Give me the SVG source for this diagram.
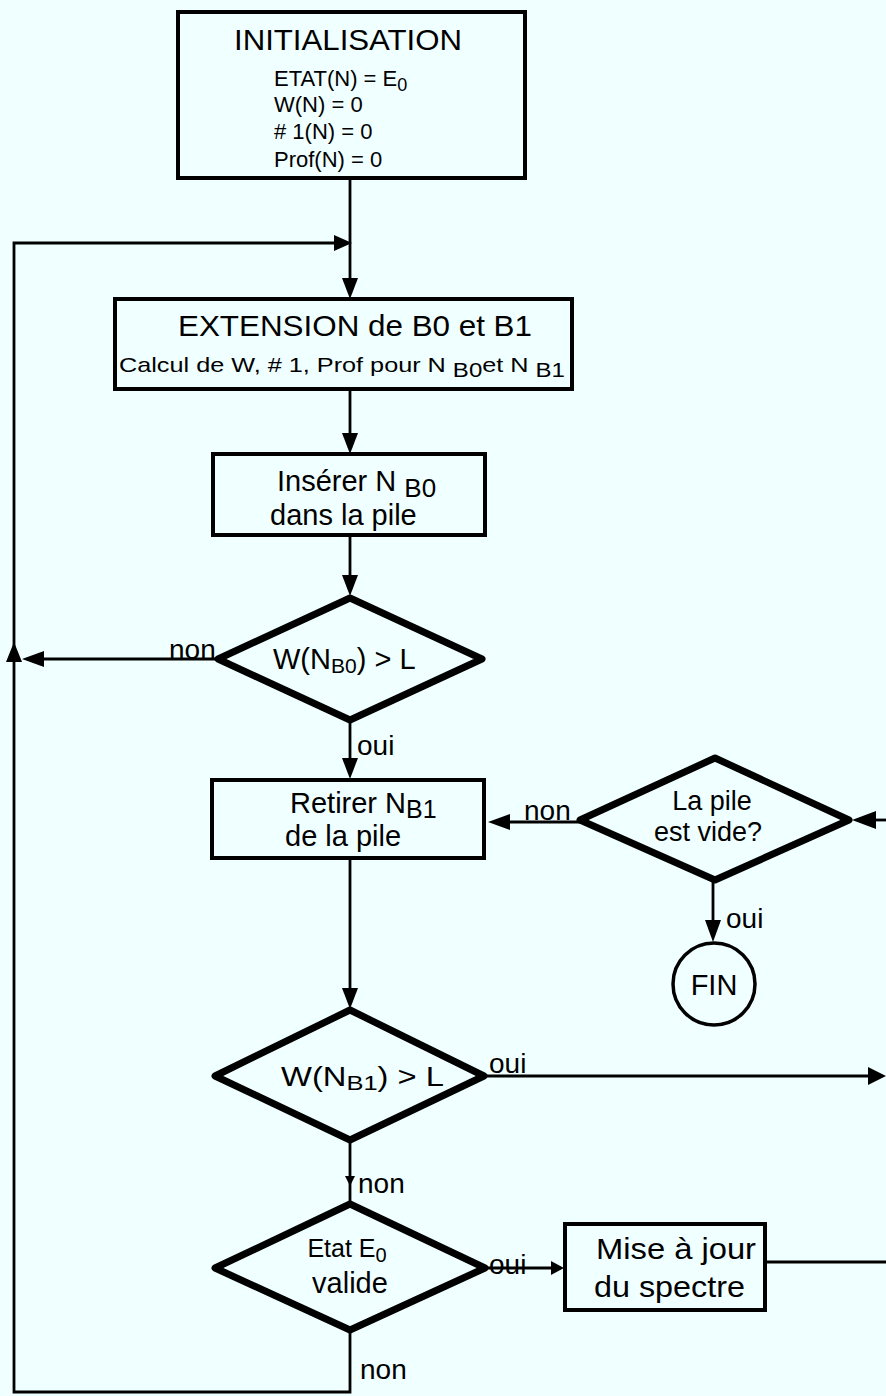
<svg xmlns="http://www.w3.org/2000/svg" width="886" height="1396" viewBox="0 0 886 1396">
<defs>
<style>
.bg{fill:#f0ffff}
.box{fill:none;stroke:#000;stroke-width:4}
.dia{fill:none;stroke:#000;stroke-width:7;stroke-linejoin:round}
.ln{fill:none;stroke:#000;stroke-width:2.8}
.ah{fill:#000}
text{font-family:"Liberation Sans",Arial,sans-serif;fill:#000}
.t1{font-size:30px}
.t2{font-size:22px}
.t3{font-size:29px}
.lb{font-size:28px}
</style>
</defs>
<rect class="bg" x="0" y="0" width="886" height="1396"/>

<g id="connectors">
<path class="ln" d="M350,178 V290"/>
<polygon class="ah" points="342,278 358,278 350,299"/>
<path class="ln" d="M350,1330 V1392 H14 V243 H340"/>
<polygon class="ah" points="334,235 334,251 352,243"/>
<polygon class="ah" points="6,662 22,662 14,642"/>
<path class="ln" d="M218,659 H32"/>
<polygon class="ah" points="44,651 44,667 22,659"/>
<path class="ln" d="M350,390 V445"/>
<polygon class="ah" points="342,433 358,433 350,454"/>
<path class="ln" d="M350,535 V588"/>
<polygon class="ah" points="342,575 358,575 350,596"/>
<path class="ln" d="M350,720 V770"/>
<polygon class="ah" points="342,758 358,758 350,779"/>
<path class="ln" d="M580,822 H498"/>
<polygon class="ah" points="510,814 510,830 488,822"/>
<path class="ln" d="M886,820 H862"/>
<polygon class="ah" points="876,811 876,829 852,820"/>
<path class="ln" d="M713,880 V932"/>
<polygon class="ah" points="705,920 721,920 713,942"/>
<path class="ln" d="M350,858 V1000"/>
<polygon class="ah" points="342,988 358,988 350,1009"/>
<path class="ln" d="M484,1076 H874"/>
<polygon class="ah" points="868,1067 868,1085 886,1076"/>
<path class="ln" d="M350,1140 V1203"/>
<polygon class="ah" points="345,1176 355,1176 350,1186"/>
<path class="ln" d="M485,1268 H556"/>
<polygon class="ah" points="551,1261 551,1275 564,1268"/>
<path class="ln" d="M765,1262 H886"/>
</g>

<g id="labels">
<text class="lb" x="169" y="659">non</text>
<text class="lb" x="357" y="755">oui</text>
<text class="lb" x="524" y="820">non</text>
<text class="lb" x="726" y="928">oui</text>
<text class="lb" x="489" y="1073">oui</text>
<text class="lb" x="358" y="1193">non</text>
<text class="lb" x="489" y="1274">oui</text>
<text class="lb" x="360" y="1379">non</text>
</g>

<g id="init">
<rect class="box" x="178" y="12" width="347" height="166"/>
<text class="t1" x="234" y="50" textLength="228" lengthAdjust="spacingAndGlyphs">INITIALISATION</text>
<text class="t2" x="274" y="86">ETAT(N) = E<tspan font-size="18" dy="5">0</tspan></text>
<text class="t2" x="274" y="112">W(N) = 0</text>
<text class="t2" x="274" y="139">#  1(N) = 0</text>
<text class="t2" x="274" y="167">Prof(N) = 0</text>
</g>

<g id="extension">
<rect class="box" x="115" y="299" width="457" height="90"/>
<text class="t1" x="178" y="336" textLength="354" lengthAdjust="spacingAndGlyphs">EXTENSION de B0 et B1</text>
<text x="119" y="372" font-size="21" textLength="446" lengthAdjust="spacingAndGlyphs">Calcul de W, # 1, Prof pour N <tspan font-size="20" dy="5">B0</tspan><tspan dy="-5">et N </tspan><tspan font-size="20" dy="5">B1</tspan></text>
</g>

<g id="inserer">
<rect class="box" x="213" y="454" width="272" height="81"/>
<text class="t3" x="277" y="491">Insérer N <tspan font-size="26" dy="6">B0</tspan></text>
<text class="t3" x="270" y="525">dans la pile</text>
</g>

<g id="test1">
<polygon class="dia" points="350,598 482,659 350,720 218,659"/>
<text class="t3" x="273" y="669">W(N<tspan font-size="21" dy="4">B0</tspan><tspan dy="-4">) &gt; L</tspan></text>
</g>

<g id="retirer">
<rect class="box" x="212" y="780" width="272" height="78"/>
<text class="t3" x="290" y="813">Retirer N<tspan font-size="25" dy="5">B1</tspan></text>
<text class="t3" x="285" y="846">de la pile</text>
</g>

<g id="pilevide">
<polygon class="dia" points="715,758 849,820 715,880 580,820"/>
<text x="712" y="810" font-size="27" text-anchor="middle">La pile</text>
<text x="708" y="841" font-size="27" text-anchor="middle">est vide?</text>
</g>

<g id="fin">
<circle cx="714" cy="984" r="41" fill="none" stroke="#000" stroke-width="3.5"/>
<text x="714" y="995" font-size="29" text-anchor="middle">FIN</text>
</g>

<g id="test2">
<polygon class="dia" points="350,1010 484,1076 350,1140 215,1076"/>
<text x="281" y="1086" font-size="27" textLength="163" lengthAdjust="spacingAndGlyphs">W(N<tspan font-size="21" dy="4">B1</tspan><tspan dy="-4">) &gt; L</tspan></text>
</g>

<g id="test3">
<polygon class="dia" points="350,1204 485,1268 350,1330 215,1268"/>
<text x="347" y="1257" font-size="25" text-anchor="middle">Etat E<tspan font-size="20" dy="5">0</tspan></text>
<text x="350" y="1293" font-size="29" text-anchor="middle">valide</text>
</g>

<g id="miseajour">
<rect class="box" x="565" y="1224" width="200" height="86"/>
<text x="596" y="1259" font-size="30" textLength="160" lengthAdjust="spacingAndGlyphs">Mise à jour</text>
<text x="594" y="1297" font-size="30" textLength="151" lengthAdjust="spacingAndGlyphs">du spectre</text>
</g>
</svg>
